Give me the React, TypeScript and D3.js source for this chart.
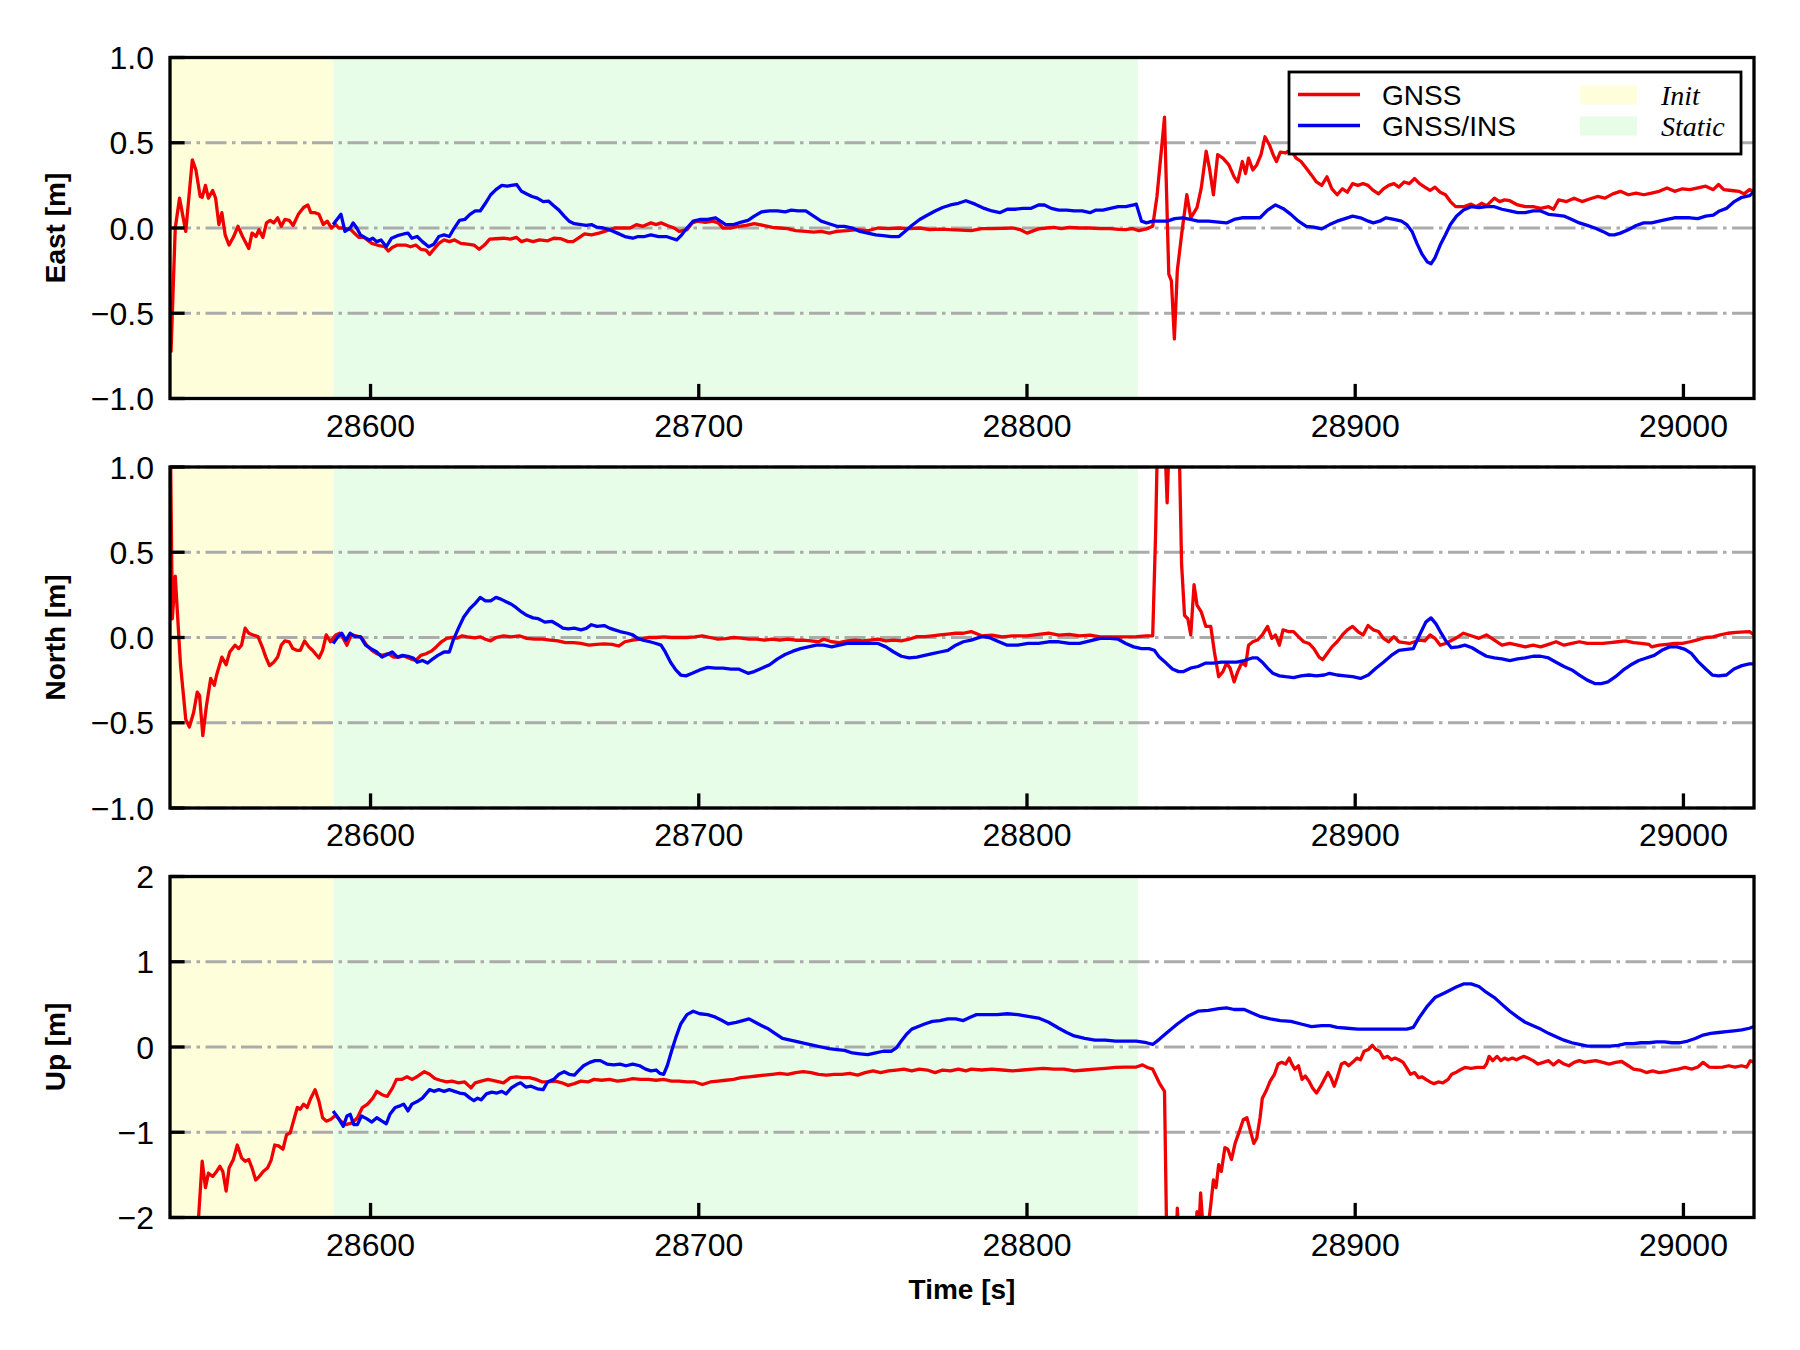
import React from 'react';
import * as d3 from 'd3';

type Pt = [number, number];

const X_DOMAIN: [number, number] = [28538.9, 29021.5];
const X_TICKS = [28600, 28700, 28800, 28900, 29000];
const X_TICK_LABELS = ['28600', '28700', '28800', '28900', '29000'];
const INIT_SPAN: [number, number] = [28538.9, 28588.7];
const STATIC_SPAN: [number, number] = [28588.7, 28833.8];

const EN_TICKS = [-1, -0.5, 0, 0.5, 1];
const EN_TICK_LABELS = ['\u22121.0', '\u22120.5', '0.0', '0.5', '1.0'];
const UP_TICKS = [-2, -1, 0, 1, 2];
const UP_TICK_LABELS = ['\u22122', '\u22121', '0', '1', '2'];

const SERIES_NAMES = ['GNSS', 'GNSS/INS'];
const SPAN_NAMES = ['Init', 'Static'];
const AXIS_LABELS = ['East [m]', 'North [m]', 'Up [m]'];
const X_LABEL = 'Time [s]';

const EAST_GNSS: Pt[] = [[28539.2,-0.73],[28540.5,0.0],[28541.8,0.175],[28543.7,-0.02],[28545.7,0.40],[28546.8,0.34],[28548.1,0.185],[28548.7,0.18],[28549.7,0.25],[28550.6,0.175],[28551.9,0.22],[28552.8,0.175],[28553.8,0.02],[28554.7,0.09],[28555.7,-0.04],[28556.9,-0.1],[28558.3,-0.05],[28559.6,0.01],[28561,-0.05],[28562.9,-0.12],[28563.9,-0.03],[28565.1,-0.05],[28566,-0.01],[28567.2,-0.055],[28568.3,0.03],[28569.4,0.045],[28570.5,0.03],[28571.7,0.06],[28572.8,0.01],[28573.9,0.05],[28575.2,0.045],[28576.4,0.015],[28578,0.08],[28579.6,0.12],[28580.9,0.135],[28581.8,0.09],[28583.1,0.09],[28584.3,0.08],[28585.6,0.02],[28586.8,0.04],[28588.1,0],[28589.4,0.02],[28590.3,0],[28591.7,0.0],[28594,-0.01],[28596.4,-0.055],[28598,-0.055],[28600.4,-0.09],[28602,-0.1],[28604.3,-0.11],[28605.4,-0.135],[28606.6,-0.115],[28608.2,-0.1],[28610.6,-0.1],[28612.2,-0.11],[28613.8,-0.1],[28615.3,-0.125],[28616.9,-0.13],[28618,-0.155],[28619.3,-0.125],[28620.8,-0.09],[28622.4,-0.07],[28624,-0.08],[28625.6,-0.07],[28627.5,-0.09],[28629.5,-0.095],[28631.5,-0.1],[28633.1,-0.125],[28634.7,-0.1],[28636.3,-0.065],[28638.2,-0.063],[28640.5,-0.06],[28642.6,-0.065],[28644.5,-0.055],[28646,-0.08],[28647.6,-0.07],[28649.5,-0.08],[28651.5,-0.07],[28654,-0.075],[28655.8,-0.06],[28657.8,-0.062],[28660.2,-0.08],[28661.7,-0.08],[28663.3,-0.06],[28665.2,-0.035],[28667.3,-0.04],[28669.6,-0.03],[28672,-0.015],[28674.4,0],[28676.7,0],[28679.1,0],[28681,0.02],[28683,0.01],[28685.4,0.03],[28687,0.02],[28688.5,0.03],[28690.4,0.015],[28692.5,0],[28694,-0.02],[28696.4,-0.01],[28698,0.03],[28699.6,0.04],[28702,0.033],[28704.3,0.04],[28705.9,0.03],[28707.4,0],[28709.8,0],[28712.2,0.01],[28714.5,0.016],[28716.9,0.025],[28720,0.014],[28722.4,0.004],[28724.7,0],[28727.1,-0.004],[28729.5,-0.015],[28732.6,-0.02],[28735,-0.024],[28737.3,-0.02],[28739.7,-0.03],[28742.1,-0.02],[28745.2,-0.016],[28748.3,-0.01],[28751.5,-0.016],[28754.6,0],[28757.8,-0.004],[28761,0],[28764.1,-0.004],[28767.3,0],[28770.4,-0.01],[28773.5,-0.006],[28776.7,-0.01],[28779.9,-0.012],[28783,-0.015],[28786.2,-0.004],[28789.3,-0.004],[28792.5,-0.002],[28795.6,0],[28798,-0.01],[28800,-0.03],[28803.5,-0.005],[28806,0.0],[28808.2,0.004],[28810.5,-0.004],[28812.9,0.004],[28816,0.0],[28819.2,0],[28822.3,-0.004],[28825.4,-0.004],[28828,-0.008],[28830.1,-0.01],[28832,-0.003],[28834.1,-0.015],[28836.4,-0.005],[28838.3,0.01],[28839.6,0.185],[28841.9,0.65],[28843.2,-0.27],[28844,-0.31],[28844.9,-0.65],[28845.8,-0.25],[28847.1,-0.04],[28848.7,0.195],[28849.9,0.06],[28851.8,0.12],[28853.1,0.235],[28854.6,0.45],[28855.6,0.35],[28856.8,0.195],[28858.1,0.43],[28859.7,0.41],[28861.5,0.37],[28863.1,0.3],[28864.2,0.27],[28865.6,0.39],[28866.6,0.32],[28867.5,0.41],[28868.8,0.34],[28870,0.37],[28871.3,0.43],[28872.5,0.535],[28873.8,0.49],[28875,0.43],[28876,0.39],[28877.2,0.445],[28878.8,0.44],[28880.4,0.46],[28882,0.41],[28883.5,0.39],[28885.1,0.35],[28886.7,0.31],[28888.2,0.27],[28889.8,0.25],[28891.4,0.3],[28892.9,0.23],[28894.5,0.195],[28896.1,0.23],[28897.6,0.21],[28899.2,0.26],[28900.8,0.25],[28902.4,0.26],[28903.9,0.25],[28905.5,0.22],[28907.1,0.2],[28908.6,0.23],[28910.2,0.25],[28911.8,0.26],[28913.3,0.24],[28914.9,0.27],[28916.5,0.26],[28918.1,0.29],[28919.6,0.26],[28921.2,0.24],[28922.8,0.22],[28924.3,0.24],[28925.9,0.21],[28927.5,0.195],[28929,0.155],[28930.6,0.125],[28933,0.125],[28935.3,0.14],[28936.9,0.125],[28938.5,0.145],[28940,0.13],[28942.4,0.175],[28944,0.155],[28945.5,0.165],[28947.1,0.16],[28949.5,0.135],[28951.8,0.125],[28954.2,0.125],[28956.5,0.115],[28958.9,0.125],[28960.4,0.11],[28962,0.165],[28964.4,0.155],[28966.7,0.175],[28969.1,0.155],[28971.4,0.17],[28973.8,0.185],[28976.1,0.175],[28978.5,0.2],[28980.8,0.215],[28983.2,0.195],[28985.6,0.205],[28987.9,0.195],[28990.3,0.205],[28992.6,0.215],[28995,0.235],[28997.3,0.215],[28999.7,0.23],[29002,0.225],[29004.4,0.235],[29006.8,0.245],[29009.1,0.225],[29010.7,0.255],[29012.3,0.225],[29014.6,0.22],[29017,0.215],[29018.5,0.2],[29020.1,0.225],[29021.5,0.215]];

const EAST_INS: Pt[] = [[28588.6,0.02],[28591,0.08],[28592.2,-0.02],[28593.8,0],[28594.7,0.03],[28595.8,0.0],[28596.9,-0.04],[28598.2,-0.055],[28599.6,-0.07],[28600.7,-0.06],[28601.9,-0.08],[28603.2,-0.07],[28604.8,-0.11],[28606.4,-0.06],[28608.2,-0.045],[28610.1,-0.035],[28611.4,-0.03],[28612.6,-0.06],[28614.2,-0.05],[28615.8,-0.08],[28617.7,-0.11],[28619.3,-0.095],[28620.8,-0.05],[28622.4,-0.04],[28624,-0.05],[28625.2,-0.01],[28627.1,0.045],[28628.7,0.05],[28630.3,0.08],[28631.9,0.1],[28633.4,0.1],[28635,0.145],[28636.6,0.195],[28638.2,0.225],[28640,0.25],[28641.6,0.245],[28642.9,0.25],[28644.5,0.255],[28646,0.215],[28647.6,0.2],[28649.2,0.185],[28650.8,0.175],[28652.6,0.155],[28654.2,0.158],[28655.8,0.13],[28657.4,0.105],[28659,0.07],[28660.5,0.04],[28662.1,0.025],[28664.1,0.02],[28665.7,0.016],[28667.3,0.02],[28668.9,0.005],[28670.9,0],[28672.8,-0.01],[28675.2,-0.03],[28677.5,-0.05],[28679.9,-0.06],[28681.5,-0.05],[28683.5,-0.05],[28685.4,-0.04],[28687.8,-0.05],[28690.1,-0.05],[28691.7,-0.06],[28693.3,-0.07],[28694.8,-0.04],[28696.4,0],[28698.3,0.04],[28700.3,0.05],[28702.7,0.05],[28705.1,0.06],[28706.6,0.04],[28708.2,0.02],[28710.6,0.02],[28713,0.035],[28715,0.045],[28716.9,0.07],[28719.2,0.095],[28721.6,0.1],[28724,0.1],[28726.3,0.095],[28728.2,0.105],[28730.3,0.1],[28732.6,0.1],[28735,0.07],[28737.3,0.04],[28739.7,0.025],[28742.1,0.01],[28744.4,0.01],[28746.8,0],[28749.1,-0.02],[28751.5,-0.03],[28753.9,-0.04],[28756.2,-0.045],[28758.6,-0.05],[28761,-0.05],[28762.8,-0.02],[28764.9,0.015],[28767.3,0.05],[28769.6,0.075],[28772,0.1],[28774.3,0.12],[28776.7,0.135],[28779.1,0.145],[28781.4,0.16],[28784.2,0.14],[28787,0.115],[28789.3,0.1],[28791.7,0.09],[28794,0.11],[28796.4,0.11],[28798.7,0.115],[28801.1,0.115],[28803.5,0.135],[28805.3,0.135],[28807.4,0.115],[28809.7,0.105],[28812.1,0.105],[28814.4,0.1],[28816.8,0.1],[28819.2,0.09],[28821,0.105],[28823.1,0.105],[28825.4,0.115],[28827.8,0.125],[28830.1,0.125],[28832.5,0.135],[28833.3,0.14],[28834.9,0.04],[28836.4,0.03],[28838.3,0.04],[28840.3,0.04],[28842.7,0.04],[28845,0.055],[28847.4,0.06],[28849.8,0.05],[28852.1,0.04],[28855.3,0.04],[28858.4,0.035],[28860.8,0.03],[28863.1,0.05],[28865.5,0.06],[28867.8,0.06],[28871,0.06],[28873.3,0.105],[28875.7,0.135],[28878,0.115],[28880.4,0.08],[28882.7,0.04],[28885.1,0.01],[28887.4,0.005],[28889.8,-0.005],[28892.2,0.02],[28894.5,0.04],[28896.9,0.055],[28899.2,0.07],[28901.6,0.06],[28904,0.04],[28905.5,0.03],[28907.4,0.04],[28909.4,0.06],[28911.8,0.05],[28914.1,0.04],[28915.7,0.02],[28917.3,-0.02],[28918.8,-0.09],[28920.4,-0.155],[28922,-0.2],[28923.1,-0.21],[28924.3,-0.175],[28925.9,-0.1],[28927.5,-0.04],[28929,0.02],[28930.9,0.07],[28933,0.105],[28935.3,0.125],[28937.7,0.12],[28940,0.125],[28942.4,0.125],[28944.7,0.11],[28947.1,0.1],[28949.5,0.09],[28951.8,0.09],[28954.2,0.1],[28956.5,0.1],[28958.9,0.08],[28961.2,0.075],[28963.6,0.07],[28966,0.05],[28968.3,0.03],[28970.7,0.015],[28973,0],[28975.4,-0.02],[28977.4,-0.04],[28979,-0.04],[28980.8,-0.03],[28983.2,-0.01],[28985.6,0.015],[28987.9,0.03],[28990.3,0.03],[28992.6,0.04],[28995,0.05],[28997.3,0.06],[28999.7,0.06],[29002,0.06],[29004.4,0.055],[29006.8,0.07],[29009.1,0.075],[29011,0.1],[29013.1,0.115],[29015.5,0.155],[29017.8,0.18],[29020.2,0.19],[29021.5,0.215]];

const NORTH_GNSS: Pt[] = [[28539,1.2],[28539.6,0.11],[28540.5,0.36],[28542.1,-0.16],[28543.7,-0.48],[28544.8,-0.525],[28546.1,-0.44],[28547.2,-0.32],[28547.9,-0.34],[28548.9,-0.575],[28550,-0.4],[28551.3,-0.24],[28552.4,-0.28],[28553.1,-0.22],[28554.7,-0.115],[28556,-0.16],[28557.1,-0.085],[28558.7,-0.045],[28559.8,-0.065],[28560.7,-0.045],[28561.8,0.055],[28562.9,0.025],[28564.2,0.015],[28565.7,0.005],[28567,-0.055],[28568.1,-0.115],[28569.2,-0.165],[28570.5,-0.145],[28571.7,-0.115],[28572.8,-0.045],[28573.9,-0.02],[28575.2,-0.025],[28576.3,-0.065],[28577.5,-0.075],[28578.6,-0.075],[28579.9,-0.02],[28581.2,-0.055],[28582.3,-0.075],[28583.4,-0.1],[28584.3,-0.12],[28585.4,-0.075],[28586.5,0.015],[28587.8,-0.025],[28589.4,0.015],[28590.6,0.025],[28591.7,-0.005],[28592.8,-0.045],[28594.1,0.015],[28595.6,0.01],[28597.2,0.0],[28598.8,-0.045],[28600.4,-0.075],[28601.9,-0.095],[28603.5,-0.105],[28605.4,-0.095],[28607,-0.115],[28608.6,-0.115],[28610.1,-0.108],[28612.2,-0.125],[28613.8,-0.135],[28615.3,-0.105],[28616.9,-0.095],[28618.5,-0.08],[28620,-0.055],[28621.6,-0.025],[28623.2,-0.005],[28624.8,0],[28626.3,-0.004],[28627.9,0.01],[28629.5,0.004],[28631.8,-0.002],[28633.4,0.004],[28635,-0.01],[28636.6,-0.02],[28638.2,0],[28640.5,0.01],[28642.9,0.004],[28645.3,0.01],[28647.6,-0.005],[28650,-0.01],[28652.4,-0.01],[28654.7,-0.015],[28657.1,-0.02],[28659.4,-0.03],[28661.8,-0.03],[28664.1,-0.035],[28666.5,-0.045],[28668.9,-0.04],[28671.2,-0.037],[28673.6,-0.04],[28675.6,-0.05],[28677.5,-0.025],[28679.9,-0.015],[28682.2,-0.01],[28684.6,0],[28687,0],[28689.3,0.004],[28691.7,0],[28694,0],[28696.4,0],[28698.8,0.004],[28701.1,0.01],[28703.5,0],[28705.8,-0.01],[28708.2,-0.006],[28710.6,0],[28712.9,-0.004],[28715.3,-0.01],[28717.7,-0.01],[28720,-0.016],[28722.4,-0.01],[28724.7,-0.016],[28727.1,-0.01],[28729.5,-0.016],[28731.8,-0.015],[28734.2,-0.02],[28736.5,-0.025],[28738.1,-0.01],[28740.5,-0.025],[28742.8,-0.03],[28745.2,-0.02],[28747.6,-0.015],[28749.9,-0.02],[28752.3,-0.015],[28754.6,-0.01],[28757,-0.02],[28759.4,-0.015],[28761.7,-0.02],[28764.1,-0.01],[28766.5,0.005],[28768.8,0.005],[28771.2,0.01],[28773.5,0.015],[28775.9,0.02],[28778.3,0.025],[28780.6,0.025],[28783,0.035],[28786.2,0.01],[28789.3,0.014],[28792.5,0.004],[28795.6,0.01],[28800,0.01],[28803.5,0.018],[28806.6,0.025],[28809.7,0.014],[28812.9,0.018],[28816,0.01],[28819.2,0.014],[28822.3,0.004],[28825.4,0.004],[28830.1,0.004],[28833.3,0.005],[28836.4,0.01],[28838.3,0.01],[28839.2,0.62],[28839.9,1.3],[28841.4,1.4],[28842.1,1.1],[28842.7,0.79],[28843.4,1.2],[28845,1.4],[28846.3,1.2],[28847.1,0.43],[28848,0.13],[28849,0.11],[28849.9,0.015],[28850.9,0.31],[28851.8,0.19],[28853.1,0.15],[28854.5,0.065],[28856,0.065],[28857.1,-0.085],[28858.4,-0.23],[28859.7,-0.2],[28860.8,-0.15],[28861.9,-0.18],[28863.1,-0.26],[28864.2,-0.2],[28865.5,-0.145],[28866.6,-0.165],[28867.5,-0.045],[28868.8,-0.025],[28870.2,-0.015],[28871.7,0.015],[28873.3,0.065],[28874.6,-0.005],[28875.7,0.015],[28876.9,-0.045],[28878,0.045],[28879.6,0.035],[28881.2,0.035],[28882.7,0.005],[28884.3,-0.025],[28885.9,-0.035],[28887.4,-0.065],[28889,-0.115],[28890.1,-0.13],[28891.4,-0.095],[28892.9,-0.055],[28894.5,-0.025],[28896.1,0.015],[28897.6,0.045],[28899.2,0.065],[28900.8,0.035],[28902.4,0.015],[28903.9,0.07],[28905.5,0.045],[28907.1,0.035],[28908.6,-0.005],[28910.2,-0.025],[28911.8,0.005],[28913.3,-0.025],[28914.9,-0.03],[28916.5,-0.035],[28918.1,-0.025],[28919.6,-0.015],[28921.2,-0.02],[28922.8,0.015],[28924.3,-0.005],[28925.9,-0.045],[28927.5,-0.035],[28929,-0.02],[28930.6,-0.005],[28933,0.025],[28935.3,0.01],[28937.7,-0.005],[28940,0.015],[28942.4,-0.015],[28944.7,-0.045],[28947.1,-0.035],[28949.5,-0.045],[28951.8,-0.055],[28954.2,-0.045],[28956.5,-0.055],[28958.9,-0.04],[28961.2,-0.025],[28963.6,-0.045],[28966,-0.035],[28968.3,-0.025],[28970.7,-0.035],[28973,-0.035],[28975.4,-0.035],[28977.7,-0.03],[28980.1,-0.025],[28982.4,-0.02],[28984.8,-0.03],[28987.1,-0.035],[28989.5,-0.04],[28990.3,-0.055],[28992.6,-0.045],[28995,-0.04],[28997.3,-0.035],[28999.7,-0.035],[29002,-0.025],[29004,-0.015],[29006.8,0],[29009,0.004],[29011.2,0.015],[29013.5,0.025],[29016,0.03],[29020.1,0.035],[29021.5,0.015]];

const NORTH_INS: Pt[] = [[28588.6,-0.035],[28590.1,0.005],[28591.2,0.025],[28592.5,-0.015],[28593.8,0.025],[28595.3,0.005],[28596.9,0.005],[28598.5,-0.045],[28600.1,-0.065],[28601.9,-0.085],[28603.5,-0.115],[28605.1,-0.1],[28606.6,-0.085],[28608.2,-0.115],[28609.8,-0.105],[28611.4,-0.11],[28613,-0.12],[28614.2,-0.145],[28615.8,-0.135],[28617.4,-0.15],[28619,-0.125],[28620.5,-0.105],[28622.4,-0.085],[28624,-0.085],[28625.2,-0.015],[28626.8,0.055],[28628.4,0.12],[28630.3,0.17],[28631.9,0.2],[28633.4,0.235],[28635,0.215],[28636.6,0.215],[28638.2,0.235],[28639.7,0.225],[28641.3,0.21],[28642.9,0.195],[28644.4,0.175],[28646,0.15],[28647.6,0.13],[28649.5,0.115],[28651.1,0.11],[28653.1,0.09],[28655.2,0.095],[28657,0.075],[28658.6,0.055],[28660.2,0.05],[28662.1,0.055],[28664.1,0.045],[28665.7,0.053],[28667.3,0.075],[28669,0.065],[28671.2,0.07],[28672.8,0.055],[28674.4,0.045],[28676,0.035],[28678.3,0.025],[28679.9,0.015],[28681.4,-0.005],[28683,-0.015],[28685.1,-0.025],[28687,-0.035],[28688.5,-0.045],[28689.8,-0.085],[28691.4,-0.145],[28693,-0.19],[28694.5,-0.22],[28696.1,-0.225],[28698,-0.21],[28700.3,-0.19],[28702.7,-0.175],[28705.1,-0.18],[28707.4,-0.18],[28709.8,-0.185],[28712.1,-0.185],[28715,-0.21],[28716.9,-0.2],[28719.2,-0.18],[28721.6,-0.16],[28724,-0.125],[28726.3,-0.1],[28728.7,-0.08],[28731,-0.065],[28733.4,-0.055],[28735.8,-0.045],[28738.1,-0.045],[28740.5,-0.055],[28742.8,-0.045],[28745.2,-0.035],[28747.6,-0.035],[28749.9,-0.035],[28752.3,-0.035],[28754.6,-0.035],[28757,-0.055],[28759.4,-0.085],[28761.7,-0.11],[28764.1,-0.12],[28766.5,-0.115],[28768.8,-0.105],[28771.2,-0.095],[28773.5,-0.085],[28775.9,-0.075],[28778.3,-0.045],[28780.6,-0.025],[28783,-0.015],[28786.2,0.005],[28788.5,0.0],[28790.9,-0.02],[28794,-0.045],[28797.2,-0.045],[28800.3,-0.035],[28803.5,-0.035],[28806.6,-0.025],[28809.7,-0.025],[28812.9,-0.035],[28816,-0.035],[28819.2,-0.02],[28822.3,-0.005],[28825.4,-0.005],[28827.8,-0.01],[28830.1,-0.035],[28832.5,-0.055],[28834.9,-0.065],[28837.2,-0.065],[28838.8,-0.075],[28840.3,-0.115],[28842.4,-0.15],[28844.3,-0.185],[28846.2,-0.2],[28847.7,-0.2],[28849.8,-0.18],[28852.1,-0.17],[28854.5,-0.15],[28856.8,-0.15],[28859.2,-0.145],[28861.5,-0.145],[28863.9,-0.145],[28866.2,-0.135],[28868.6,-0.12],[28870.2,-0.12],[28871.7,-0.145],[28873.3,-0.18],[28874.9,-0.21],[28876.9,-0.225],[28878.8,-0.23],[28881.2,-0.235],[28883.5,-0.225],[28885.9,-0.22],[28888.2,-0.225],[28890.6,-0.22],[28892.2,-0.21],[28894.5,-0.22],[28896.9,-0.225],[28899.2,-0.23],[28901.6,-0.24],[28904,-0.22],[28906.3,-0.18],[28908.6,-0.145],[28911,-0.105],[28913.3,-0.075],[28915.7,-0.07],[28917.7,-0.065],[28919.6,0.015],[28921.5,0.09],[28923.1,0.115],[28924.6,0.08],[28926.2,0.025],[28927.8,-0.025],[28929.3,-0.06],[28931.4,-0.055],[28933.4,-0.045],[28935.6,-0.06],[28937.7,-0.085],[28940,-0.11],[28942.4,-0.12],[28944.7,-0.125],[28947.1,-0.135],[28949.5,-0.125],[28951.8,-0.12],[28954.2,-0.11],[28956.5,-0.11],[28958.9,-0.12],[28961.2,-0.145],[28963.6,-0.17],[28966,-0.19],[28968.3,-0.22],[28970.7,-0.25],[28973,-0.27],[28975,-0.27],[28977,-0.26],[28979.3,-0.23],[28981.7,-0.19],[28984,-0.16],[28986.4,-0.135],[28988.7,-0.12],[28991.1,-0.105],[28993.4,-0.075],[28995.8,-0.055],[28998.1,-0.055],[29000.5,-0.07],[29002.5,-0.095],[29004.4,-0.14],[29006.8,-0.185],[29008.8,-0.22],[29010.7,-0.225],[29013.1,-0.22],[29015.4,-0.185],[29017.8,-0.165],[29020.1,-0.155],[29021.5,-0.155]];

const UP_GNSS: Pt[] = [[28539,-3.0],[28547.3,-2.6],[28547.6,-2.0],[28548.7,-1.34],[28549.7,-1.65],[28550.6,-1.48],[28551.9,-1.52],[28553.1,-1.46],[28554.1,-1.4],[28555,-1.46],[28556,-1.69],[28556.9,-1.42],[28558.2,-1.32],[28559.4,-1.15],[28560.7,-1.3],[28561.8,-1.34],[28562.9,-1.32],[28563.9,-1.42],[28565,-1.56],[28566.1,-1.52],[28567.3,-1.46],[28568.6,-1.42],[28569.7,-1.33],[28570.8,-1.15],[28572,-1.16],[28573.3,-1.2],[28574.4,-1.03],[28575.5,-1.01],[28576.8,-0.83],[28577.7,-0.71],[28578.6,-0.73],[28579.6,-0.67],[28580.7,-0.71],[28581.8,-0.6],[28583.1,-0.5],[28584.3,-0.64],[28585.4,-0.83],[28586.5,-0.87],[28587.8,-0.85],[28589.4,-0.8],[28590.9,-0.87],[28592.5,-0.91],[28594.4,-0.89],[28596,-0.83],[28597.5,-0.71],[28599.1,-0.67],[28600.7,-0.6],[28601.9,-0.52],[28603.5,-0.56],[28605.1,-0.58],[28606.7,-0.48],[28607.9,-0.38],[28609.5,-0.38],[28611.1,-0.35],[28612.7,-0.38],[28614.5,-0.34],[28616.4,-0.29],[28618,-0.32],[28619.6,-0.37],[28621.2,-0.39],[28623.2,-0.41],[28624.8,-0.4],[28626.8,-0.42],[28628.7,-0.41],[28630.6,-0.48],[28631.9,-0.42],[28633.7,-0.4],[28635.8,-0.38],[28638.2,-0.4],[28640.5,-0.42],[28642.6,-0.36],[28644.5,-0.35],[28646.3,-0.36],[28648.4,-0.36],[28650.4,-0.38],[28652.3,-0.41],[28654.2,-0.41],[28656.3,-0.4],[28658.3,-0.42],[28660.2,-0.45],[28662.1,-0.43],[28664.1,-0.4],[28666.2,-0.41],[28668.1,-0.38],[28670.4,-0.39],[28672.8,-0.38],[28675.2,-0.4],[28677.5,-0.39],[28679.9,-0.37],[28682.2,-0.38],[28684.6,-0.38],[28687,-0.39],[28689.3,-0.38],[28691.7,-0.4],[28694,-0.4],[28696.4,-0.41],[28698.8,-0.41],[28701.1,-0.44],[28703.5,-0.41],[28705.8,-0.4],[28708.2,-0.39],[28710.6,-0.38],[28712.9,-0.36],[28715.3,-0.35],[28717.7,-0.34],[28720,-0.33],[28722.4,-0.32],[28724.7,-0.31],[28727.1,-0.32],[28729.5,-0.3],[28731.8,-0.29],[28734.2,-0.3],[28736.5,-0.32],[28738.9,-0.33],[28741.3,-0.32],[28743.6,-0.32],[28746,-0.31],[28748.4,-0.33],[28750.7,-0.3],[28753.1,-0.28],[28755.4,-0.3],[28757.8,-0.28],[28760.2,-0.27],[28762.5,-0.26],[28764.9,-0.28],[28767.2,-0.26],[28769.6,-0.27],[28772,-0.3],[28774.3,-0.27],[28776.7,-0.28],[28779.1,-0.26],[28781.4,-0.28],[28783,-0.26],[28786.2,-0.27],[28789.3,-0.26],[28792.5,-0.27],[28795.6,-0.28],[28798.7,-0.27],[28801.9,-0.26],[28805,-0.25],[28808.2,-0.26],[28811.3,-0.26],[28814.4,-0.28],[28817.6,-0.27],[28820.7,-0.26],[28823.9,-0.25],[28827,-0.24],[28830.1,-0.235],[28833.3,-0.235],[28835.2,-0.21],[28836.7,-0.24],[28838.3,-0.26],[28840.3,-0.42],[28841.9,-0.52],[28842.7,-2.6],[28845.3,-2.5],[28845.8,-1.89],[28846.4,-2.3],[28851.2,-2.3],[28851.8,-1.93],[28852.3,-2.2],[28852.9,-1.71],[28853.6,-2.1],[28855.2,-2.1],[28856,-1.85],[28856.8,-1.56],[28857.6,-1.65],[28858.4,-1.38],[28859.2,-1.46],[28860.3,-1.18],[28861.2,-1.2],[28862.3,-1.32],[28863.4,-1.13],[28864.7,-0.99],[28865.9,-0.85],[28867,-0.83],[28868.1,-0.99],[28869.1,-1.13],[28870,-1.07],[28871,-0.83],[28871.7,-0.6],[28872.8,-0.52],[28874.1,-0.4],[28875.4,-0.32],[28876.5,-0.2],[28877.6,-0.18],[28878.8,-0.2],[28879.9,-0.13],[28880.7,-0.2],[28881.6,-0.26],[28882.7,-0.22],[28883.8,-0.38],[28884.8,-0.34],[28885.9,-0.4],[28887,-0.48],[28888.2,-0.54],[28889.5,-0.46],[28890.6,-0.38],[28891.7,-0.3],[28892.6,-0.36],[28893.6,-0.46],[28894.5,-0.36],[28895.8,-0.2],[28896.9,-0.18],[28898,-0.22],[28899.2,-0.18],[28900.5,-0.13],[28901.6,-0.15],[28902.7,-0.05],[28904,-0.03],[28905.2,0.02],[28906.3,-0.03],[28907.4,-0.05],[28908.6,-0.13],[28909.9,-0.11],[28911,-0.15],[28912.1,-0.13],[28913.3,-0.15],[28914.6,-0.18],[28915.9,-0.26],[28916.8,-0.32],[28918.1,-0.3],[28919.3,-0.36],[28920.4,-0.35],[28921.5,-0.38],[28922.8,-0.41],[28924,-0.43],[28925.3,-0.41],[28926.7,-0.42],[28928.3,-0.38],[28929.4,-0.32],[28930.6,-0.3],[28931.9,-0.27],[28933.4,-0.24],[28935.3,-0.25],[28937.2,-0.24],[28939.2,-0.24],[28940,-0.2],[28940.8,-0.11],[28941.9,-0.16],[28943.2,-0.11],[28944.4,-0.16],[28945.5,-0.13],[28946.6,-0.15],[28947.9,-0.13],[28949.1,-0.15],[28950.2,-0.13],[28951.3,-0.11],[28952.6,-0.13],[28954.2,-0.16],[28955.7,-0.2],[28957.3,-0.18],[28958.9,-0.16],[28960.4,-0.21],[28962,-0.16],[28963.6,-0.2],[28965.1,-0.22],[28966.7,-0.18],[28968.3,-0.16],[28969.9,-0.18],[28971.4,-0.17],[28973.3,-0.16],[28975.4,-0.18],[28977.4,-0.2],[28979.3,-0.18],[28981.2,-0.17],[28983.2,-0.22],[28984.8,-0.26],[28986.8,-0.27],[28988.7,-0.3],[28990.6,-0.28],[28992.6,-0.3],[28994.7,-0.29],[28996.6,-0.27],[28998.4,-0.26],[29000.5,-0.24],[29002.5,-0.26],[29004.4,-0.235],[29006,-0.18],[29007.8,-0.235],[29009.9,-0.24],[29011.9,-0.235],[29013.8,-0.22],[29015.7,-0.235],[29017.7,-0.22],[29019.3,-0.235],[29020.4,-0.16],[29021.5,-0.18]];

const UP_INS: Pt[] = [[28588.6,-0.75],[28590.1,-0.83],[28591.7,-0.93],[28592.8,-0.81],[28593.8,-0.79],[28594.9,-0.91],[28596,-0.91],[28597.2,-0.81],[28598.8,-0.84],[28600.4,-0.88],[28601.9,-0.83],[28603.5,-0.87],[28604.8,-0.9],[28605.9,-0.79],[28607.5,-0.71],[28609,-0.69],[28610.1,-0.67],[28611.4,-0.75],[28612.6,-0.67],[28614.2,-0.64],[28615.8,-0.6],[28616.9,-0.55],[28618,-0.5],[28619.3,-0.52],[28620.8,-0.5],[28622.4,-0.52],[28624,-0.5],[28625.6,-0.52],[28627.1,-0.54],[28628.7,-0.55],[28630.3,-0.6],[28631.5,-0.63],[28632.6,-0.6],[28633.7,-0.62],[28635.3,-0.55],[28636.9,-0.53],[28638.5,-0.54],[28640,-0.52],[28641.3,-0.55],[28642.9,-0.48],[28644.5,-0.44],[28645.7,-0.42],[28647.3,-0.47],[28648.9,-0.46],[28650.8,-0.49],[28652.6,-0.5],[28653.9,-0.41],[28655.8,-0.38],[28657.4,-0.32],[28659,-0.29],[28660.5,-0.32],[28662.1,-0.33],[28663.3,-0.28],[28664.9,-0.22],[28666.8,-0.18],[28668.4,-0.16],[28670,-0.16],[28672,-0.2],[28674.1,-0.21],[28676,-0.2],[28677.8,-0.22],[28679.9,-0.2],[28682,-0.22],[28683.8,-0.26],[28685.4,-0.28],[28687,-0.27],[28688.2,-0.31],[28689.3,-0.32],[28690.4,-0.22],[28691.7,-0.05],[28693,0.11],[28694.5,0.27],[28696.4,0.38],[28698.3,0.42],[28700.3,0.39],[28702.7,0.38],[28705.1,0.35],[28707.1,0.31],[28709,0.27],[28711.4,0.29],[28713.4,0.31],[28715.3,0.33],[28717.2,0.29],[28719.2,0.25],[28721.3,0.21],[28723.2,0.16],[28725.5,0.1],[28727.9,0.08],[28730.3,0.06],[28732.6,0.04],[28735,0.02],[28737.3,0],[28739.7,-0.02],[28742.1,-0.03],[28744.4,-0.04],[28746.8,-0.07],[28749.1,-0.08],[28751.5,-0.09],[28753.9,-0.07],[28756.2,-0.05],[28758.6,-0.05],[28760.2,-0.01],[28761.7,0.07],[28763.3,0.15],[28764.9,0.21],[28766.9,0.24],[28768.8,0.27],[28771.2,0.3],[28773.5,0.31],[28775.9,0.33],[28778.3,0.33],[28780.6,0.31],[28782.7,0.35],[28784.6,0.38],[28787.8,0.38],[28790.9,0.38],[28794,0.39],[28797.2,0.38],[28800.3,0.36],[28803.5,0.34],[28806.6,0.29],[28809.7,0.22],[28812.1,0.17],[28814.4,0.13],[28817.6,0.1],[28820.7,0.08],[28823.9,0.08],[28827,0.07],[28830.1,0.07],[28833.3,0.07],[28836.4,0.05],[28838.3,0.03],[28840.3,0.09],[28842.7,0.17],[28845.8,0.27],[28849,0.36],[28852.1,0.42],[28855.3,0.43],[28858.4,0.45],[28860.8,0.46],[28863.1,0.44],[28866.2,0.44],[28868.6,0.4],[28870.9,0.36],[28874.1,0.33],[28877.2,0.31],[28880.4,0.3],[28883.5,0.27],[28886.7,0.24],[28889.8,0.25],[28892.2,0.25],[28894.5,0.23],[28897.6,0.22],[28900.8,0.21],[28903.9,0.21],[28907.1,0.21],[28910.2,0.21],[28913.3,0.21],[28915.7,0.21],[28917.7,0.23],[28919.6,0.35],[28922,0.48],[28924.3,0.58],[28927.5,0.64],[28930.6,0.7],[28933,0.74],[28935.3,0.74],[28937.7,0.71],[28940,0.64],[28942.4,0.58],[28944.7,0.5],[28947.1,0.42],[28949.5,0.35],[28951.8,0.29],[28954.2,0.25],[28956.5,0.21],[28958.9,0.16],[28961.2,0.12],[28963.6,0.08],[28966,0.05],[28968.3,0.03],[28970.7,0.01],[28973,0.01],[28975.4,0.01],[28977.7,0.01],[28980.1,0.02],[28982.4,0.04],[28984.8,0.04],[28987.1,0.05],[28989.5,0.05],[28991.8,0.06],[28994.2,0.06],[28996.5,0.05],[28998.9,0.05],[29001.3,0.07],[29003.6,0.1],[29006,0.14],[29008.3,0.16],[29010.7,0.17],[29013.1,0.18],[29015.4,0.19],[29017.8,0.2],[29020.1,0.22],[29021.5,0.24]];

const SANS = '"Liberation Sans", Arial, Helvetica, sans-serif';
const SERIF = '"Liberation Serif", "Times New Roman", serif';
const RED = '#f00000';
const BLUE = '#0000f0';
const INIT_FILL = '#fefedb';
const STATIC_FILL = '#e8fde7';
const GRID = '#ababab';

export default function App() {
  const W = 1800;
  const H = 1350;
  const left = 170;
  const right = 1754;
  const panelH = 341;
  const tops = [57.5, 467, 876.5];
  const x = d3.scaleLinear().domain(X_DOMAIN).range([left, right]);

  const panels = [
    { domain: [-1, 1], ticks: EN_TICKS, labels: EN_TICK_LABELS, gnss: EAST_GNSS, ins: EAST_INS, title: AXIS_LABELS[0] },
    { domain: [-1, 1], ticks: EN_TICKS, labels: EN_TICK_LABELS, gnss: NORTH_GNSS, ins: NORTH_INS, title: AXIS_LABELS[1] },
    { domain: [-2, 2], ticks: UP_TICKS, labels: UP_TICK_LABELS, gnss: UP_GNSS, ins: UP_INS, title: AXIS_LABELS[2] },
  ];

  return (
    <svg width={W} height={H} viewBox={`0 0 ${W} ${H}`} style={{ position: 'absolute', left: 0, top: 0, display: 'block' }}>
      <rect x={0} y={0} width={W} height={H} fill="#ffffff" />
      <defs>
        {panels.map((p, i) => (
          <clipPath id={`clip${i}`} key={i}>
            <rect x={left} y={tops[i]} width={right - left} height={panelH} />
          </clipPath>
        ))}
      </defs>
      {panels.map((p, i) => {
        const top = tops[i];
        const bottom = top + panelH;
        const y = d3.scaleLinear().domain(p.domain as [number, number]).range([bottom, top]);
        const line = d3.line<Pt>().x(d => x(d[0])).y(d => y(d[1]));
        const cy = (top + bottom) / 2;
        return (
          <g key={i}>
            <rect x={x(INIT_SPAN[0])} y={top} width={x(INIT_SPAN[1]) - x(INIT_SPAN[0])} height={panelH} fill={INIT_FILL} />
            <rect x={x(STATIC_SPAN[0])} y={top} width={x(STATIC_SPAN[1]) - x(STATIC_SPAN[0])} height={panelH} fill={STATIC_FILL} />
            {p.ticks.map((t, k) => (
              <line key={k} x1={left} x2={right} y1={y(t)} y2={y(t)} stroke={GRID} strokeWidth={3} strokeDasharray="21 5.5 3.5 5.5" />
            ))}
            <g clipPath={`url(#clip${i})`}>
              <path d={line(p.gnss) || ''} fill="none" stroke={RED} strokeWidth={3.3} strokeLinejoin="round" />
              <path d={line(p.ins) || ''} fill="none" stroke={BLUE} strokeWidth={3.3} strokeLinejoin="round" />
            </g>
            {p.ticks.map((t, k) => (
              <line key={`yt${k}`} x1={left} x2={left + 14.6} y1={y(t)} y2={y(t)} stroke="#000" strokeWidth={3.3} />
            ))}
            {X_TICKS.map((t, k) => (
              <line key={`xt${k}`} x1={x(t)} x2={x(t)} y1={bottom} y2={bottom - 14.6} stroke="#000" strokeWidth={3.3} />
            ))}
            <rect x={left} y={top} width={right - left} height={panelH} fill="none" stroke="#000" strokeWidth={3.3} />
            {p.ticks.map((t, k) => (
              <text key={`yl${k}`} x={left - 16} y={y(t) + 11.5} textAnchor="end" fontFamily={SANS} fontSize={32} fill="#000">{p.labels[k]}</text>
            ))}
            {X_TICKS.map((t, k) => (
              <text key={`xl${k}`} x={x(t)} y={bottom + 38} textAnchor="middle" fontFamily={SANS} fontSize={32} fill="#000">{X_TICK_LABELS[k]}</text>
            ))}
            <text transform={`translate(65,${cy}) rotate(-90)`} textAnchor="middle" fontFamily={SANS} fontSize={28} fontWeight="bold" fill="#000">{p.title}</text>
          </g>
        );
      })}
      <text x={(left + right) / 2} y={1299} textAnchor="middle" fontFamily={SANS} fontSize={28} fontWeight="bold" fill="#000">{X_LABEL}</text>
      <g>
        <rect x={1289} y={72} width={452} height={82} fill="#fff" stroke="#000" strokeWidth={2.8} />
        <line x1={1298} x2={1360} y1={94.5} y2={94.5} stroke={RED} strokeWidth={3.3} />
        <line x1={1298} x2={1360} y1={125.5} y2={125.5} stroke={BLUE} strokeWidth={3.3} />
        <text x={1382} y={104.5} fontFamily={SANS} fontSize={28} fill="#000">{SERIES_NAMES[0]}</text>
        <text x={1382} y={135.5} fontFamily={SANS} fontSize={28} fill="#000">{SERIES_NAMES[1]}</text>
        <rect x={1580} y={85.5} width={57} height={19} fill={INIT_FILL} />
        <rect x={1580} y={116.5} width={57} height={19} fill={STATIC_FILL} />
        <text x={1661} y={104.5} fontFamily={SERIF} fontStyle="italic" fontSize={28} fill="#000">{SPAN_NAMES[0]}</text>
        <text x={1661} y={135.5} fontFamily={SERIF} fontStyle="italic" fontSize={28} fill="#000">{SPAN_NAMES[1]}</text>
      </g>
    </svg>
  );
}
